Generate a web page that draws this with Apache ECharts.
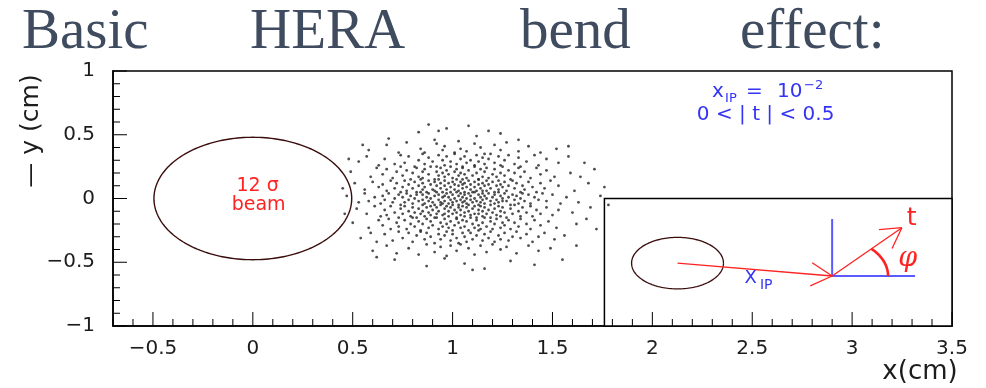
<!DOCTYPE html>
<html>
<head>
<meta charset="utf-8">
<script src="https://cdn.jsdelivr.net/npm/echarts/dist/echarts.min.js"></script>
<style>
  html, body { margin: 0; padding: 0; background: #fff; }
  #plot { width: 986px; height: 388px; }
</style>
</head>
<body>
<div id="plot"></div>
<script>
// ---- axes ----
const xRange = [-0.7, 3.5];
const yRange = [-1, 1];
const minorStep = 0.1;

// ---- headline ----
const titleWords = ['Basic', 'HERA', 'bend', 'effect:'];

// ---- beam envelope: centre x, centre y, half-width, half-height (cm) ----
const beamEllipse = [0, 0, 0.495, 0.48];
const beamLabel = ['12 \u03c3', 'beam'];
const beamLabelAt = [[0.024, 0.10], [0.029, -0.055]];

// ---- cut summary ----
const cutText = ['x', 'IP', '=', '10', '\u22122', '0 < | t | < 0.5'];
const cutLabelAt = [[2.299, 0.84], [2.567, 0.655]];

// ---- inset sketch, in the plot's own cm coordinates ----
const insetBox = [1.76, -1, 3.5, 0];            // x0, y0, x1, y1
const insetBeam = [2.126, -0.507, 0.23, 0.202];  // cx, cy, rx, ry
const insetOrigin = [2.9, -0.608];
const insetAxisTop = -0.161;
const insetAxisEnd = 3.315;
const tArrowTip = [3.249, -0.229];
const phiArc = [0.28, 0.30];
const insetLabels = ['X', 'IP', 't', '\u03c6'];
const insetLabelAt = [[2.492, -0.627], [2.570, -0.678], [3.298, -0.153], [3.278, -0.478]];

// ---- scattered proton positions (x, y in cm) ----
const cloud = [
[0.68,0.47],[0.83,0.52],[0.91,0.46],[0.97,0.55],[1.12,0.49],[1.18,0.53],[1.33,0.46],[0.88,0.58],[1.08,0.57],
[0.58,0.38],[0.67,0.42],[0.73,0.36],[0.77,0.44],[0.84,0.39],[0.86,0.36],[0.92,0.43],[0.95,0.38],[0.96,0.41],[1.01,0.36],[1.03,0.45],[1.04,0.39],[1.07,0.37],[1.11,0.43],[1.14,0.40],[1.16,0.35],[1.21,0.42],[1.24,0.38],[1.27,0.44],[1.33,0.37],[1.38,0.41],[1.44,0.36],[1.52,0.39],
[0.53,0.29],[0.57,0.33],[0.63,0.26],[0.66,0.31],[0.71,0.27],[0.74,0.34],[0.76,0.28],[0.78,0.33],[0.81,0.25],[0.83,0.30],[0.85,0.35],[0.86,0.27],[0.88,0.32],[0.90,0.29],[0.92,0.25],[0.93,0.34],[0.95,0.30],[0.96,0.26],[0.97,0.33],[0.99,0.29],[1.01,0.35],[1.02,0.27],[1.04,0.31],[1.05,0.25],[1.06,0.33],[1.07,0.28],[1.09,0.30],[1.11,0.26],[1.12,0.34],[1.13,0.29],[1.15,0.32],[1.16,0.27],[1.18,0.31],[1.19,0.35],[1.21,0.28],[1.23,0.33],[1.24,0.26],[1.26,0.30],[1.28,0.34],[1.31,0.27],[1.33,0.32],[1.34,0.25],[1.37,0.29],[1.41,0.34],[1.43,0.26],[1.47,0.31],[1.53,0.28],[1.58,0.33],
[0.49,0.21],[0.59,0.17],[0.62,0.24],[0.65,0.19],[0.67,0.23],[0.70,0.16],[0.72,0.21],[0.74,0.25],[0.75,0.18],[0.77,0.22],[0.79,0.15],[0.80,0.20],[0.82,0.24],[0.83,0.17],[0.85,0.21],[0.85,0.16],[0.86,0.23],[0.88,0.19],[0.89,0.25],[0.91,0.15],[0.92,0.21],[0.93,0.18],[0.94,0.24],[0.95,0.20],[0.96,0.17],[0.97,0.22],[0.98,0.19],[0.99,0.25],[1.00,0.16],[1.01,0.21],[1.02,0.23],[1.03,0.18],[1.04,0.20],[1.05,0.15],[1.05,0.24],[1.06,0.19],[1.07,0.16],[1.08,0.22],[1.10,0.18],[1.11,0.25],[1.12,0.20],[1.13,0.15],[1.14,0.23],[1.15,0.17],[1.16,0.21],[1.17,0.24],[1.18,0.16],[1.20,0.19],[1.21,0.23],[1.22,0.17],[1.24,0.20],[1.25,0.25],[1.26,0.18],[1.28,0.22],[1.29,0.15],[1.31,0.20],[1.33,0.24],[1.34,0.17],[1.36,0.21],[1.39,0.16],[1.42,0.24],[1.44,0.19],[1.47,0.22],[1.51,0.17],[1.59,0.20],[1.71,0.23],
[0.51,0.12],[0.56,0.07],[0.60,0.13],[0.63,0.09],[0.65,0.11],[0.67,0.06],[0.69,0.14],[0.71,0.08],[0.72,0.12],[0.74,0.05],[0.75,0.09],[0.76,0.14],[0.77,0.06],[0.78,0.11],[0.80,0.08],[0.81,0.13],[0.82,0.05],[0.83,0.10],[0.84,0.15],[0.85,0.07],[0.85,0.12],[0.86,0.09],[0.87,0.05],[0.88,0.14],[0.89,0.11],[0.90,0.07],[0.91,0.13],[0.91,0.06],[0.92,0.10],[0.93,0.15],[0.94,0.08],[0.94,0.12],[0.95,0.05],[0.96,0.10],[0.96,0.14],[0.97,0.07],[0.98,0.12],[0.99,0.05],[0.99,0.09],[1.00,0.13],[1.01,0.07],[1.01,0.11],[1.02,0.15],[1.03,0.06],[1.03,0.10],[1.04,0.13],[1.05,0.08],[1.05,0.11],[1.06,0.05],[1.06,0.12],[1.07,0.09],[1.08,0.14],[1.09,0.07],[1.09,0.11],[1.10,0.05],[1.11,0.13],[1.11,0.09],[1.12,0.06],[1.13,0.11],[1.13,0.15],[1.14,0.08],[1.15,0.12],[1.15,0.06],[1.16,0.10],[1.17,0.14],[1.17,0.06],[1.18,0.11],[1.19,0.08],[1.20,0.13],[1.21,0.05],[1.22,0.10],[1.23,0.14],[1.23,0.07],[1.24,0.11],[1.25,0.09],[1.26,0.13],[1.27,0.06],[1.28,0.10],[1.30,0.14],[1.31,0.08],[1.32,0.12],[1.34,0.05],[1.35,0.10],[1.36,0.07],[1.38,0.13],[1.40,0.09],[1.42,0.05],[1.44,0.12],[1.46,0.08],[1.49,0.14],[1.53,0.10],[1.61,0.06],[1.68,0.12],
[0.47,0.02],[0.53,-0.03],[0.56,0.04],[0.58,-0.02],[0.61,0.01],[0.64,-0.04],[0.65,0.02],[0.66,-0.01],[0.68,0.04],[0.70,-0.03],[0.71,0.00],[0.73,0.03],[0.74,-0.05],[0.75,0.01],[0.76,-0.03],[0.77,0.04],[0.78,-0.01],[0.79,0.02],[0.80,-0.04],[0.81,0.00],[0.82,0.03],[0.83,-0.02],[0.84,0.05],[0.85,-0.01],[0.85,0.03],[0.86,-0.04],[0.87,0.01],[0.88,-0.02],[0.88,0.04],[0.89,0.00],[0.90,-0.03],[0.91,0.02],[0.91,-0.05],[0.92,0.05],[0.93,-0.01],[0.93,0.03],[0.94,-0.03],[0.95,0.01],[0.95,-0.04],[0.96,0.02],[0.96,-0.02],[0.97,0.04],[0.98,-0.04],[0.98,0.01],[0.99,-0.01],[1.00,0.03],[1.00,-0.03],[1.01,0.00],[1.02,0.05],[1.02,-0.02],[1.03,0.02],[1.03,-0.05],[1.04,0.04],[1.04,-0.01],[1.05,0.01],[1.05,-0.03],[1.06,0.03],[1.06,-0.02],[1.07,0.00],[1.07,-0.04],[1.08,0.04],[1.09,-0.01],[1.09,0.02],[1.10,-0.03],[1.11,0.05],[1.11,0.00],[1.12,-0.02],[1.13,0.03],[1.13,-0.05],[1.14,0.01],[1.14,-0.03],[1.15,0.04],[1.15,-0.01],[1.16,0.02],[1.16,-0.04],[1.17,0.00],[1.18,0.04],[1.19,-0.02],[1.20,0.01],[1.21,-0.04],[1.21,0.03],[1.22,-0.01],[1.23,0.05],[1.23,-0.03],[1.24,0.02],[1.25,-0.02],[1.25,0.00],[1.26,0.04],[1.27,-0.02],[1.28,0.01],[1.29,-0.05],[1.30,0.03],[1.31,-0.01],[1.32,0.02],[1.33,-0.04],[1.34,0.00],[1.35,0.04],[1.36,-0.02],[1.38,0.03],[1.39,-0.04],[1.41,0.01],[1.43,-0.01],[1.45,0.04],[1.47,-0.02],[1.50,0.03],[1.54,-0.04],[1.57,0.01],[1.63,-0.03],[1.74,0.02],
[0.52,-0.08],[0.57,-0.12],[0.61,-0.06],[0.64,-0.14],[0.66,-0.09],[0.67,-0.13],[0.69,-0.06],[0.71,-0.11],[0.73,-0.15],[0.74,-0.08],[0.75,-0.12],[0.76,-0.06],[0.78,-0.10],[0.79,-0.14],[0.80,-0.07],[0.81,-0.11],[0.82,-0.15],[0.83,-0.08],[0.84,-0.12],[0.85,-0.05],[0.85,-0.10],[0.86,-0.14],[0.87,-0.07],[0.88,-0.11],[0.89,-0.06],[0.89,-0.13],[0.90,-0.09],[0.91,-0.15],[0.92,-0.07],[0.92,-0.12],[0.93,-0.10],[0.94,-0.05],[0.95,-0.13],[0.96,-0.08],[0.96,-0.12],[0.97,-0.06],[0.98,-0.14],[0.98,-0.10],[0.99,-0.07],[1.00,-0.12],[1.00,-0.05],[1.01,-0.09],[1.02,-0.15],[1.02,-0.11],[1.03,-0.07],[1.04,-0.13],[1.04,-0.09],[1.05,-0.06],[1.06,-0.11],[1.06,-0.14],[1.07,-0.07],[1.08,-0.10],[1.08,-0.05],[1.09,-0.13],[1.10,-0.08],[1.11,-0.12],[1.11,-0.06],[1.12,-0.15],[1.13,-0.09],[1.13,-0.12],[1.14,-0.06],[1.15,-0.10],[1.15,-0.14],[1.16,-0.07],[1.17,-0.12],[1.18,-0.09],[1.19,-0.15],[1.19,-0.05],[1.20,-0.11],[1.21,-0.08],[1.22,-0.13],[1.23,-0.06],[1.24,-0.10],[1.24,-0.14],[1.25,-0.07],[1.26,-0.11],[1.27,-0.15],[1.29,-0.08],[1.30,-0.12],[1.31,-0.05],[1.33,-0.10],[1.34,-0.14],[1.35,-0.07],[1.37,-0.11],[1.39,-0.06],[1.40,-0.14],[1.42,-0.09],[1.44,-0.12],[1.47,-0.07],[1.50,-0.13],[1.53,-0.09],[1.60,-0.11],[1.69,-0.07],
[0.50,-0.19],[0.58,-0.23],[0.63,-0.17],[0.65,-0.21],[0.68,-0.16],[0.69,-0.24],[0.72,-0.19],[0.73,-0.22],[0.76,-0.17],[0.77,-0.24],[0.79,-0.20],[0.80,-0.15],[0.81,-0.22],[0.83,-0.18],[0.84,-0.25],[0.85,-0.20],[0.87,-0.16],[0.88,-0.23],[0.89,-0.18],[0.90,-0.21],[0.92,-0.15],[0.93,-0.24],[0.94,-0.19],[0.95,-0.22],[0.96,-0.16],[0.97,-0.20],[0.98,-0.23],[0.99,-0.18],[1.00,-0.25],[1.01,-0.21],[1.02,-0.16],[1.03,-0.19],[1.04,-0.23],[1.05,-0.17],[1.06,-0.22],[1.07,-0.18],[1.08,-0.25],[1.09,-0.15],[1.10,-0.20],[1.11,-0.23],[1.12,-0.17],[1.13,-0.21],[1.14,-0.24],[1.15,-0.19],[1.16,-0.15],[1.17,-0.22],[1.19,-0.18],[1.20,-0.24],[1.21,-0.20],[1.22,-0.16],[1.24,-0.23],[1.25,-0.19],[1.26,-0.21],[1.28,-0.17],[1.29,-0.24],[1.31,-0.19],[1.33,-0.22],[1.34,-0.16],[1.37,-0.20],[1.39,-0.24],[1.41,-0.17],[1.44,-0.21],[1.48,-0.18],[1.52,-0.23],[1.62,-0.20],[1.67,-0.16],
[0.54,-0.31],[0.59,-0.27],[0.62,-0.34],[0.66,-0.28],[0.70,-0.33],[0.73,-0.26],[0.75,-0.31],[0.78,-0.27],[0.80,-0.34],[0.82,-0.29],[0.84,-0.26],[0.86,-0.32],[0.87,-0.27],[0.89,-0.30],[0.91,-0.35],[0.93,-0.28],[0.94,-0.32],[0.96,-0.29],[0.97,-0.26],[0.99,-0.33],[1.00,-0.28],[1.02,-0.31],[1.03,-0.35],[1.05,-0.27],[1.06,-0.30],[1.07,-0.34],[1.09,-0.27],[1.10,-0.32],[1.12,-0.29],[1.13,-0.25],[1.15,-0.33],[1.16,-0.28],[1.18,-0.31],[1.19,-0.26],[1.21,-0.34],[1.23,-0.29],[1.24,-0.32],[1.26,-0.27],[1.28,-0.33],[1.30,-0.30],[1.32,-0.26],[1.34,-0.31],[1.37,-0.28],[1.40,-0.34],[1.43,-0.30],[1.46,-0.27],[1.51,-0.32],[1.56,-0.29],
[0.60,-0.41],[0.67,-0.37],[0.72,-0.43],[0.78,-0.39],[0.83,-0.44],[0.87,-0.36],[0.91,-0.42],[0.94,-0.38],[0.97,-0.45],[0.99,-0.37],[1.02,-0.41],[1.04,-0.36],[1.08,-0.39],[1.11,-0.44],[1.14,-0.37],[1.17,-0.42],[1.20,-0.36],[1.24,-0.40],[1.27,-0.38],[1.32,-0.43],[1.38,-0.37],[1.43,-0.41],[1.49,-0.39],
[0.71,-0.48],[0.87,-0.53],[0.96,-0.47],[1.06,-0.51],[1.16,-0.55],[1.29,-0.49],[1.41,-0.52],
[0.45,0.08],[0.46,-0.12],[0.48,0.31],[0.55,0.42],[0.62,-0.46],[1.58,0.41],[1.62,-0.37],[1.66,0.28],[1.72,-0.24],[1.76,0.09],[1.78,-0.05],[1.64,0.17],[1.55,-0.48],[0.93,0.53],[1.24,0.51],[1.10,-0.56]
];

// ---- styling ----
const INK = '#1c1c1c';
const RED = '#ff2222';
const BLUE = '#3434f4';
const AXIS_BLUE = '#5a5aff';
const BEAM_LINE = '#3a0c0c';
const SANS = 'DejaVu Sans';

function isMajor(v) {
  const r = Math.round(v * 10) / 10;
  return Math.abs(r * 2 - Math.round(r * 2)) < 1e-6;
}
function tickText(v) {
  const r = Math.round(v * 10) / 10;
  if (!isMajor(r)) return '';
  return r < 0 ? '\u2212' + String(Math.abs(r)) : String(r);
}

function ellipsePts(api, cx, cy, rx, ry, n) {
  const pts = [];
  for (let i = 0; i <= n; i++) {
    const a = 2 * Math.PI * i / n;
    pts.push(api.coord([cx + rx * Math.cos(a), cy + ry * Math.sin(a)]));
  }
  return pts;
}

function arrowHead(tip, from, len, halfDeg, style) {
  const back = Math.atan2(from[1] - tip[1], from[0] - tip[0]);
  const h = halfDeg * Math.PI / 180;
  return [-1, 1].map(s => ({
    type: 'line',
    shape: { x1: tip[0], y1: tip[1], x2: tip[0] + len * Math.cos(back + s * h), y2: tip[1] + len * Math.sin(back + s * h) },
    style: style
  }));
}

function txt(p, text, size, color, extra) {
  return {
    type: 'text', x: p[0], y: p[1],
    style: Object.assign({ text: text, fill: color, fontSize: size, fontFamily: SANS, align: 'center', verticalAlign: 'middle' }, extra || {})
  };
}

function makeAxis(range, labelMargin) {
  return {
    type: 'value', min: range[0], max: range[1], interval: minorStep,
    axisLine: { show: true, onZero: false, lineStyle: { color: '#000', width: 1.5 } },
    axisTick: { show: false },
    splitLine: { show: false },
    axisLabel: { formatter: tickText, fontFamily: SANS, fontSize: 20, color: INK, margin: labelMargin }
  };
}

const plot = echarts.init(document.getElementById('plot'));

const titleX = [22, 250, 520, 740];

plot.setOption({
  animation: false,
  backgroundColor: '#fff',
  grid: { left: 113, right: 34, top: 71, bottom: 62, show: true, borderColor: '#000', borderWidth: 1.5 },
  xAxis: makeAxis(xRange, 13),
  yAxis: makeAxis(yRange, 18),
  series: [
    // scattered protons
    {
      type: 'scatter', data: cloud, symbol: 'circle', symbolSize: 2.8,
      itemStyle: { color: '#202020', opacity: 0.8 }
    },
    // 12 sigma beam envelope and its label
    {
      type: 'custom', clip: false, data: [[beamEllipse[0], beamEllipse[1]]],
      renderItem: function (params, api) {
        return { type: 'group', children: [
          { type: 'polyline', shape: { points: ellipsePts(api, beamEllipse[0], beamEllipse[1], beamEllipse[2], beamEllipse[3], 200) },
            style: { stroke: BEAM_LINE, lineWidth: 1.4, fill: null } },
          txt(api.coord(beamLabelAt[0]), beamLabel[0], 19, RED),
          txt(api.coord(beamLabelAt[1]), beamLabel[1], 19, RED)
        ] };
      }
    },
    // x_IP / |t| cut summary
    {
      type: 'custom', clip: false, data: [[cutLabelAt[0][0], cutLabelAt[0][1]]],
      renderItem: function (params, api) {
        const p = api.coord(cutLabelAt[0]);
        const left = { align: 'left' };
        return { type: 'group', children: [
          txt([p[0], p[1]], cutText[0], 20, BLUE, left),
          txt([p[0] + 13, p[1] + 7], cutText[1], 13, BLUE, left),
          txt([p[0] + 34, p[1]], cutText[2], 20, BLUE, left),
          txt([p[0] + 65, p[1]], cutText[3], 20, BLUE, left),
          txt([p[0] + 92, p[1] - 6], cutText[4], 13, BLUE, left),
          txt(api.coord(cutLabelAt[1]), cutText[5], 20, BLUE)
        ] };
      }
    },
    // inset panel and sketch: beam, x_IP vector, t vector and the angle phi
    {
      type: 'custom', clip: false, data: [[insetOrigin[0], insetOrigin[1]]],
      renderItem: function (params, api) {
        const b0 = api.coord([insetBox[0], insetBox[3]]);
        const b1 = api.coord([insetBox[2], insetBox[1]]);
        const o = api.coord(insetOrigin);
        const c = api.coord([insetBeam[0], insetBeam[1]]);
        const tip = api.coord(tArrowTip);
        const red = { stroke: RED, lineWidth: 1.3 };
        const blue = { stroke: AXIS_BLUE, lineWidth: 2 };
        const r = api.size(phiArc);
        const dx = tip[0] - o[0], dy = o[1] - tip[1];
        const tEnd = Math.atan2(dy / r[1], dx / r[0]);
        const arc = [];
        for (let i = 0; i <= 40; i++) {
          const t = tEnd * i / 40;
          arc.push([o[0] + r[0] * Math.cos(t), o[1] - r[1] * Math.sin(t)]);
        }
        const top = api.coord([insetOrigin[0], insetAxisTop]);
        const end = api.coord([insetAxisEnd, insetOrigin[1]]);
        return { type: 'group', children: [
          { type: 'rect', shape: { x: b0[0], y: b0[1], width: b1[0] - b0[0], height: b1[1] - b0[1] },
            style: { fill: '#fff', stroke: '#000', lineWidth: 1.5 } },
          { type: 'polyline', shape: { points: ellipsePts(api, insetBeam[0], insetBeam[1], insetBeam[2], insetBeam[3], 160) },
            style: { stroke: BEAM_LINE, lineWidth: 1.3, fill: null } },
          { type: 'line', shape: { x1: o[0], y1: o[1], x2: top[0], y2: top[1] }, style: blue },
          { type: 'line', shape: { x1: o[0], y1: o[1], x2: end[0], y2: end[1] }, style: blue },
          { type: 'line', shape: { x1: c[0], y1: c[1], x2: o[0], y2: o[1] }, style: red },
          ...arrowHead(o, c, 24, 29, red),
          { type: 'line', shape: { x1: o[0], y1: o[1], x2: tip[0], y2: tip[1] }, style: red },
          ...arrowHead(tip, o, 23, 30, red),
          { type: 'polyline', shape: { points: arc }, style: { stroke: RED, lineWidth: 2.6, fill: null } },
          txt(api.coord(insetLabelAt[0]), insetLabels[0], 18, BLUE),
          txt(api.coord(insetLabelAt[1]), insetLabels[1], 14, BLUE),
          txt(api.coord(insetLabelAt[2]), insetLabels[2], 25, RED),
          txt(api.coord(insetLabelAt[3]), insetLabels[3], 27, RED, { fontFamily: 'DejaVu Serif', fontStyle: 'italic' })
        ] };
      }
    }
  ]
});

// Headline, axis titles and the inward tick marks (short every 0.1, long at labelled values),
// placed through the axes' own pixel mapping.
const overlay = [
  ...titleWords.map((w, i) => ({
    type: 'text', x: titleX[i], y: 33,
    style: { text: w, fontFamily: 'Liberation Serif', fontSize: 57, fill: '#3f4b5e', align: 'left', verticalAlign: 'middle' }
  })),
  { type: 'text', x: 31, y: 131, rotation: Math.PI / 2,
    style: { text: '\u2014 y (cm)', fontFamily: SANS, fontSize: 25, fill: INK, align: 'center', verticalAlign: 'middle' } },
  { type: 'text', x: 920, y: 372,
    style: { text: 'x(cm)', fontFamily: SANS, fontSize: 26, fill: INK, align: 'center', verticalAlign: 'middle' } }
];
const nx = Math.round((xRange[1] - xRange[0]) / minorStep);
for (let k = 0; k <= nx; k++) {
  const v = xRange[0] + k * minorStep;
  const p = plot.convertToPixel({ gridIndex: 0 }, [v, yRange[0]]);
  const len = isMajor(v) ? 14 : 7;
  overlay.push({ type: 'line', z: 100, shape: { x1: p[0], y1: p[1], x2: p[0], y2: p[1] - len }, style: { stroke: '#000', lineWidth: 1 } });
}
const ny = Math.round((yRange[1] - yRange[0]) / minorStep);
for (let k = 0; k <= ny; k++) {
  const v = yRange[0] + k * minorStep;
  const p = plot.convertToPixel({ gridIndex: 0 }, [xRange[0], v]);
  const len = isMajor(v) ? 14 : 7;
  overlay.push({ type: 'line', z: 100, shape: { x1: p[0], y1: p[1], x2: p[0] + len, y2: p[1] }, style: { stroke: '#000', lineWidth: 1 } });
}
plot.setOption({ graphic: overlay });
</script>
</body>
</html>
